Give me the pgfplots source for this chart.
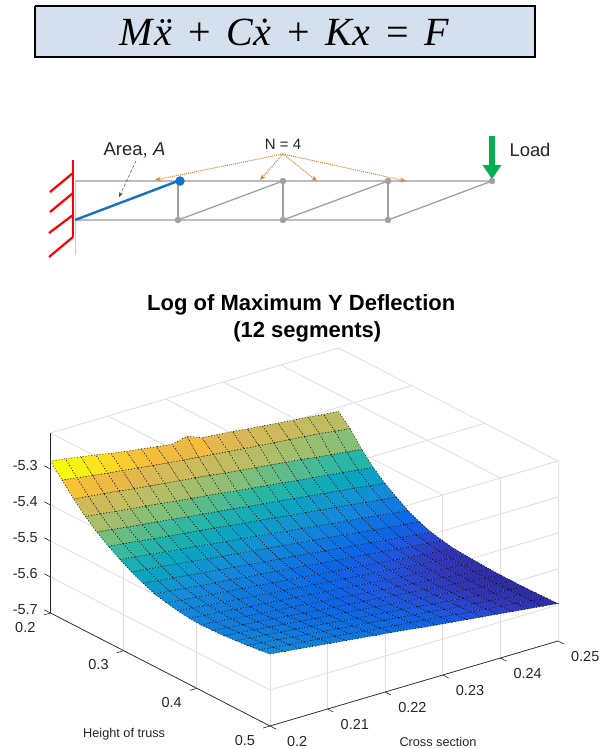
\documentclass[border=0pt]{standalone}
\usepackage{fontspec}
\setmainfont{Liberation Sans}
\newfontfamily\eqfont{Liberation Serif}
\usepackage{pgfplots}
\pgfplotsset{compat=1.18}
\usetikzlibrary{arrows.meta}
\definecolor{boxfill}{RGB}{213,224,238}
\definecolor{trussgray}{RGB}{160,160,160}
\definecolor{dotorange}{RGB}{208,130,40}
\definecolor{loadgreen}{RGB}{0,176,80}
\definecolor{tickcol}{RGB}{38,38,38}
\definecolor{gridcol}{RGB}{222,222,222}
\begin{document}
\begin{tikzpicture}
\path[use as bounding box] (0pt,0pt) rectangle (601pt,749pt);
% Pixel-scaled sheet: equation box and truss sketch
\begin{axis}[name=sheet,at={(0pt,0pt)},anchor=south west,scale only axis,width=601pt,height=749pt,
  xmin=0,xmax=601,ymin=0,ymax=749,y dir=reverse,hide axis,clip=false]
\addplot[draw=none,forget plot] coordinates {(0,0)(601,749)};
\addplot[draw=black,line width=1.5pt,fill=boxfill] coordinates {(35,6)(535,6)(535,57)(35,57)(35,6)};
\node[anchor=base] at (axis cs:284.5,46) {\fontsize{40}{44}\selectfont\eqfont{\itshape M\kern1.5pt\"x}\hspace{16pt}+\hspace{16pt}{\itshape C\.x}\hspace{16pt}+\hspace{16pt}{\itshape Kx}\hspace{16pt}=\hspace{16pt}{\itshape F}};
% chords and members
\addplot[trussgray!70,line width=1.6pt] coordinates {(75,181)(492,181)};
\addplot[trussgray!70,line width=1.6pt] coordinates {(75,220)(388,220)};
\addplot[trussgray,line width=2pt] coordinates {(178,181)(178,220)};
\addplot[trussgray,line width=2pt] coordinates {(283,181)(283,220)};
\addplot[trussgray,line width=2pt] coordinates {(388,181)(388,220)};
\addplot[trussgray,line width=1.3pt] coordinates {(178,220)(283,181)};
\addplot[trussgray,line width=1.3pt] coordinates {(283,220)(388,181)};
\addplot[trussgray,line width=1.3pt] coordinates {(388,220)(492,181)};
\addplot[gray!40,line width=0.7pt] coordinates {(75,181)(75,255)};
\addplot[only marks,mark=*,mark size=3pt,mark options={draw=trussgray,fill=trussgray}] coordinates {(283,181)(388,181)(492,181)(178,220)(283,220)(388,220)};
\addplot[color={rgb,255:red,20;green,115;blue,200},line width=2.4pt] coordinates {(75,220)(178,181)};
\addplot[only marks,mark=*,mark size=4.5pt,mark options={draw={rgb,255:red,20;green,115;blue,200},fill={rgb,255:red,20;green,115;blue,200}}] coordinates {(180,181)};
% wall
\addplot[red,line width=2.2pt] coordinates {(73,160)(73,237)};
\addplot[red,line width=2.2pt] coordinates {(73,173)(50,192)};
\addplot[red,line width=2.2pt] coordinates {(73,193)(50,212)};
\addplot[red,line width=2.2pt] coordinates {(73,215)(49,233)};
\addplot[red,line width=2.2pt] coordinates {(73,237)(49,257)};
% annotations
\addplot[black!75,line width=0.5pt,densely dashed,-{Stealth[length=5pt]}] coordinates {(136,161)(119,197)};
\addplot[dotorange,line width=1pt,densely dotted,-{Stealth[length=6pt,open]}] coordinates {(283,154)(155,180)};
\addplot[dotorange,line width=1pt,densely dotted,-{Stealth[length=6pt,open]}] coordinates {(283,154)(260,180)};
\addplot[dotorange,line width=1pt,densely dotted,-{Stealth[length=6pt,open]}] coordinates {(283,154)(317,181)};
\addplot[dotorange,line width=1pt,densely dotted,-{Stealth[length=6pt,open]}] coordinates {(283,154)(406,181)};
\addplot[loadgreen,line width=5.5pt,-{Triangle[length=14pt,width=18pt]}] coordinates {(492,136)(492,179)};
\node[text=black!85] at (axis cs:134.5,150) {\fontsize{18.5}{20}\selectfont Area, \textit{A}};
\node[text=black!85] at (axis cs:283,144) {\fontsize{15}{17}\selectfont N = 4};
\node[text=black!85] at (axis cs:530,150) {\fontsize{18.4}{20}\selectfont Load};
\end{axis}
% 3-D surface
\begin{axis}[at={(50.5pt,316pt)},anchor=origin,
  x={(5760pt,1700pt)},y={(731.67pt,-376.67pt)},z={(0pt,360pt)},
  xmin=0.2,xmax=0.25,ymin=0.2,ymax=0.5,zmin=-5.7,zmax=-5.2,
  clip=false,
  axis line style={draw=none},
  grid=major,grid style={gridcol,line width=0.8pt},
  xtick={0.2,0.21,0.22,0.23,0.24,0.25},xticklabels={0.2,0.21,0.22,0.23,0.24,0.25},
  ytick={0.2,0.3,0.4,0.5},yticklabels={0.2,0.3,0.4,0.5},
  ztick={-5.7,-5.6,-5.5,-5.4,-5.3},zticklabels={-5.7,-5.6,-5.5,-5.4,-5.3},
  xtick pos=left,ytick pos=left,ztick pos=left,
  tick style={draw=none},
  major tick length=7pt,
  tick align=outside,
  ticklabel style={font=\fontsize{14.5}{16}\selectfont,text=tickcol},
  xticklabel style={anchor=center,xshift=21pt,yshift=-12.5pt},
  yticklabel style={xshift=-10pt,yshift=-1pt},
  zticklabel style={xshift=-3pt,yshift=-1pt},
  colormap={par}{rgb255(0cm)=(45,42,155) rgb255(1cm)=(50,55,185) rgb255(2cm)=(30,85,222) rgb255(3cm)=(12,103,230) rgb255(4cm)=(15,115,224) rgb255(6cm)=(20,140,215) rgb255(8cm)=(10,165,195) rgb255(10cm)=(40,182,165) rgb255(12cm)=(124,191,123) rgb255(14cm)=(183,189,100) rgb255(16cm)=(220,185,85) rgb255(17cm)=(240,185,65) rgb255(18cm)=(250,195,50) rgb255(19cm)=(250,225,30) rgb255(20cm)=(249,251,14)},
  xlabel={Cross section},ylabel={Height of truss},
  x label style={at={(axis cs:0.2151,0.6107,-5.7)},anchor=center,font=\fontsize{12.7}{14}\selectfont,text=tickcol,rotate=0},
  y label style={at={(axis cs:0.1822,0.4408,-5.7)},anchor=center,font=\fontsize{12.7}{14}\selectfont,text=tickcol,rotate=0},
  title={Log of Maximum Y Deflection\hspace*{12pt}\\(12 segments)},
  title style={at={(axis cs:0.2904,-0.1594,-5.7)},xshift=-1pt,anchor=center,align=center,font=\fontsize{22}{27}\selectfont\bfseries},
]
\addplot3[surf,shader=flat corner,draw=black,dash pattern=on 0.9pt off 2pt,line width=0.55pt,mesh/rows=20,mesh/cols=20,mesh/ordering=x varies] table {
x y z
0.2 0.2 -5.278
0.2026 0.2 -5.284
0.2053 0.2 -5.291
0.2079 0.2 -5.298
0.2105 0.2 -5.306
0.2132 0.2 -5.313
0.2158 0.2 -5.319
0.2184 0.2 -5.325
0.2211 0.2 -5.331
0.2237 0.2 -5.321
0.2263 0.2 -5.337
0.2289 0.2 -5.341
0.2316 0.2 -5.345
0.2342 0.2 -5.350
0.2368 0.2 -5.354
0.2395 0.2 -5.359
0.2421 0.2 -5.363
0.2447 0.2 -5.367
0.2474 0.2 -5.372
0.25 0.2 -5.376
0.2 0.2158 -5.314
0.2026 0.2158 -5.320
0.2053 0.2158 -5.326
0.2079 0.2158 -5.332
0.2105 0.2158 -5.337
0.2132 0.2158 -5.343
0.2158 0.2158 -5.348
0.2184 0.2158 -5.353
0.2211 0.2158 -5.358
0.2237 0.2158 -5.362
0.2263 0.2158 -5.367
0.2289 0.2158 -5.371
0.2316 0.2158 -5.376
0.2342 0.2158 -5.380
0.2368 0.2158 -5.384
0.2395 0.2158 -5.388
0.2421 0.2158 -5.392
0.2447 0.2158 -5.396
0.2474 0.2158 -5.402
0.25 0.2158 -5.407
0.2 0.2316 -5.350
0.2026 0.2316 -5.355
0.2053 0.2316 -5.360
0.2079 0.2316 -5.365
0.2105 0.2316 -5.371
0.2132 0.2316 -5.376
0.2158 0.2316 -5.381
0.2184 0.2316 -5.386
0.2211 0.2316 -5.391
0.2237 0.2316 -5.396
0.2263 0.2316 -5.402
0.2289 0.2316 -5.407
0.2316 0.2316 -5.412
0.2342 0.2316 -5.417
0.2368 0.2316 -5.422
0.2395 0.2316 -5.427
0.2421 0.2316 -5.433
0.2447 0.2316 -5.438
0.2474 0.2316 -5.443
0.25 0.2316 -5.448
0.2 0.2474 -5.382
0.2026 0.2474 -5.387
0.2053 0.2474 -5.393
0.2079 0.2474 -5.398
0.2105 0.2474 -5.403
0.2132 0.2474 -5.408
0.2158 0.2474 -5.414
0.2184 0.2474 -5.419
0.2211 0.2474 -5.424
0.2237 0.2474 -5.429
0.2263 0.2474 -5.435
0.2289 0.2474 -5.440
0.2316 0.2474 -5.445
0.2342 0.2474 -5.450
0.2368 0.2474 -5.456
0.2395 0.2474 -5.461
0.2421 0.2474 -5.466
0.2447 0.2474 -5.471
0.2474 0.2474 -5.477
0.25 0.2474 -5.482
0.2 0.2632 -5.409
0.2026 0.2632 -5.414
0.2053 0.2632 -5.420
0.2079 0.2632 -5.425
0.2105 0.2632 -5.430
0.2132 0.2632 -5.435
0.2158 0.2632 -5.441
0.2184 0.2632 -5.446
0.2211 0.2632 -5.451
0.2237 0.2632 -5.456
0.2263 0.2632 -5.462
0.2289 0.2632 -5.467
0.2316 0.2632 -5.472
0.2342 0.2632 -5.477
0.2368 0.2632 -5.483
0.2395 0.2632 -5.488
0.2421 0.2632 -5.493
0.2447 0.2632 -5.498
0.2474 0.2632 -5.504
0.25 0.2632 -5.509
0.2 0.2789 -5.432
0.2026 0.2789 -5.437
0.2053 0.2789 -5.442
0.2079 0.2789 -5.448
0.2105 0.2789 -5.453
0.2132 0.2789 -5.458
0.2158 0.2789 -5.463
0.2184 0.2789 -5.468
0.2211 0.2789 -5.474
0.2237 0.2789 -5.479
0.2263 0.2789 -5.484
0.2289 0.2789 -5.489
0.2316 0.2789 -5.495
0.2342 0.2789 -5.500
0.2368 0.2789 -5.505
0.2395 0.2789 -5.510
0.2421 0.2789 -5.515
0.2447 0.2789 -5.521
0.2474 0.2789 -5.526
0.25 0.2789 -5.531
0.2 0.2947 -5.452
0.2026 0.2947 -5.457
0.2053 0.2947 -5.463
0.2079 0.2947 -5.468
0.2105 0.2947 -5.473
0.2132 0.2947 -5.478
0.2158 0.2947 -5.484
0.2184 0.2947 -5.489
0.2211 0.2947 -5.494
0.2237 0.2947 -5.499
0.2263 0.2947 -5.505
0.2289 0.2947 -5.510
0.2316 0.2947 -5.515
0.2342 0.2947 -5.520
0.2368 0.2947 -5.526
0.2395 0.2947 -5.531
0.2421 0.2947 -5.536
0.2447 0.2947 -5.541
0.2474 0.2947 -5.547
0.25 0.2947 -5.552
0.2 0.3105 -5.470
0.2026 0.3105 -5.475
0.2053 0.3105 -5.480
0.2079 0.3105 -5.485
0.2105 0.3105 -5.490
0.2132 0.3105 -5.496
0.2158 0.3105 -5.501
0.2184 0.3105 -5.506
0.2211 0.3105 -5.511
0.2237 0.3105 -5.516
0.2263 0.3105 -5.521
0.2289 0.3105 -5.526
0.2316 0.3105 -5.531
0.2342 0.3105 -5.536
0.2368 0.3105 -5.541
0.2395 0.3105 -5.547
0.2421 0.3105 -5.552
0.2447 0.3105 -5.557
0.2474 0.3105 -5.562
0.25 0.3105 -5.567
0.2 0.3263 -5.485
0.2026 0.3263 -5.490
0.2053 0.3263 -5.495
0.2079 0.3263 -5.500
0.2105 0.3263 -5.505
0.2132 0.3263 -5.510
0.2158 0.3263 -5.515
0.2184 0.3263 -5.520
0.2211 0.3263 -5.525
0.2237 0.3263 -5.530
0.2263 0.3263 -5.534
0.2289 0.3263 -5.539
0.2316 0.3263 -5.544
0.2342 0.3263 -5.549
0.2368 0.3263 -5.554
0.2395 0.3263 -5.559
0.2421 0.3263 -5.564
0.2447 0.3263 -5.569
0.2474 0.3263 -5.574
0.25 0.3263 -5.579
0.2 0.3421 -5.498
0.2026 0.3421 -5.503
0.2053 0.3421 -5.507
0.2079 0.3421 -5.512
0.2105 0.3421 -5.517
0.2132 0.3421 -5.521
0.2158 0.3421 -5.526
0.2184 0.3421 -5.530
0.2211 0.3421 -5.535
0.2237 0.3421 -5.540
0.2263 0.3421 -5.544
0.2289 0.3421 -5.549
0.2316 0.3421 -5.554
0.2342 0.3421 -5.558
0.2368 0.3421 -5.563
0.2395 0.3421 -5.567
0.2421 0.3421 -5.572
0.2447 0.3421 -5.577
0.2474 0.3421 -5.581
0.25 0.3421 -5.586
0.2 0.3579 -5.506
0.2026 0.3579 -5.511
0.2053 0.3579 -5.515
0.2079 0.3579 -5.520
0.2105 0.3579 -5.524
0.2132 0.3579 -5.529
0.2158 0.3579 -5.533
0.2184 0.3579 -5.538
0.2211 0.3579 -5.542
0.2237 0.3579 -5.547
0.2263 0.3579 -5.551
0.2289 0.3579 -5.556
0.2316 0.3579 -5.560
0.2342 0.3579 -5.565
0.2368 0.3579 -5.569
0.2395 0.3579 -5.574
0.2421 0.3579 -5.578
0.2447 0.3579 -5.583
0.2474 0.3579 -5.587
0.25 0.3579 -5.592
0.2 0.3737 -5.512
0.2026 0.3737 -5.516
0.2053 0.3737 -5.521
0.2079 0.3737 -5.525
0.2105 0.3737 -5.529
0.2132 0.3737 -5.534
0.2158 0.3737 -5.538
0.2184 0.3737 -5.542
0.2211 0.3737 -5.547
0.2237 0.3737 -5.551
0.2263 0.3737 -5.555
0.2289 0.3737 -5.559
0.2316 0.3737 -5.564
0.2342 0.3737 -5.568
0.2368 0.3737 -5.572
0.2395 0.3737 -5.577
0.2421 0.3737 -5.581
0.2447 0.3737 -5.585
0.2474 0.3737 -5.590
0.25 0.3737 -5.594
0.2 0.3895 -5.516
0.2026 0.3895 -5.520
0.2053 0.3895 -5.524
0.2079 0.3895 -5.529
0.2105 0.3895 -5.533
0.2132 0.3895 -5.537
0.2158 0.3895 -5.541
0.2184 0.3895 -5.545
0.2211 0.3895 -5.550
0.2237 0.3895 -5.554
0.2263 0.3895 -5.558
0.2289 0.3895 -5.562
0.2316 0.3895 -5.567
0.2342 0.3895 -5.571
0.2368 0.3895 -5.575
0.2395 0.3895 -5.579
0.2421 0.3895 -5.583
0.2447 0.3895 -5.588
0.2474 0.3895 -5.592
0.25 0.3895 -5.596
0.2 0.4053 -5.518
0.2026 0.4053 -5.522
0.2053 0.4053 -5.526
0.2079 0.4053 -5.531
0.2105 0.4053 -5.535
0.2132 0.4053 -5.539
0.2158 0.4053 -5.543
0.2184 0.4053 -5.547
0.2211 0.4053 -5.552
0.2237 0.4053 -5.556
0.2263 0.4053 -5.560
0.2289 0.4053 -5.564
0.2316 0.4053 -5.569
0.2342 0.4053 -5.573
0.2368 0.4053 -5.577
0.2395 0.4053 -5.581
0.2421 0.4053 -5.585
0.2447 0.4053 -5.590
0.2474 0.4053 -5.594
0.25 0.4053 -5.598
0.2 0.4211 -5.517
0.2026 0.4211 -5.521
0.2053 0.4211 -5.526
0.2079 0.4211 -5.530
0.2105 0.4211 -5.534
0.2132 0.4211 -5.539
0.2158 0.4211 -5.543
0.2184 0.4211 -5.547
0.2211 0.4211 -5.552
0.2237 0.4211 -5.556
0.2263 0.4211 -5.560
0.2289 0.4211 -5.564
0.2316 0.4211 -5.569
0.2342 0.4211 -5.573
0.2368 0.4211 -5.577
0.2395 0.4211 -5.582
0.2421 0.4211 -5.586
0.2447 0.4211 -5.590
0.2474 0.4211 -5.595
0.25 0.4211 -5.599
0.2 0.4368 -5.515
0.2026 0.4368 -5.519
0.2053 0.4368 -5.524
0.2079 0.4368 -5.528
0.2105 0.4368 -5.533
0.2132 0.4368 -5.537
0.2158 0.4368 -5.542
0.2184 0.4368 -5.546
0.2211 0.4368 -5.550
0.2237 0.4368 -5.555
0.2263 0.4368 -5.559
0.2289 0.4368 -5.564
0.2316 0.4368 -5.568
0.2342 0.4368 -5.572
0.2368 0.4368 -5.577
0.2395 0.4368 -5.581
0.2421 0.4368 -5.586
0.2447 0.4368 -5.590
0.2474 0.4368 -5.595
0.25 0.4368 -5.599
0.2 0.4526 -5.512
0.2026 0.4526 -5.517
0.2053 0.4526 -5.521
0.2079 0.4526 -5.526
0.2105 0.4526 -5.530
0.2132 0.4526 -5.535
0.2158 0.4526 -5.539
0.2184 0.4526 -5.544
0.2211 0.4526 -5.549
0.2237 0.4526 -5.553
0.2263 0.4526 -5.558
0.2289 0.4526 -5.562
0.2316 0.4526 -5.567
0.2342 0.4526 -5.572
0.2368 0.4526 -5.576
0.2395 0.4526 -5.581
0.2421 0.4526 -5.585
0.2447 0.4526 -5.590
0.2474 0.4526 -5.594
0.25 0.4526 -5.599
0.2 0.4684 -5.509
0.2026 0.4684 -5.514
0.2053 0.4684 -5.518
0.2079 0.4684 -5.523
0.2105 0.4684 -5.528
0.2132 0.4684 -5.532
0.2158 0.4684 -5.537
0.2184 0.4684 -5.542
0.2211 0.4684 -5.546
0.2237 0.4684 -5.551
0.2263 0.4684 -5.556
0.2289 0.4684 -5.560
0.2316 0.4684 -5.565
0.2342 0.4684 -5.570
0.2368 0.4684 -5.575
0.2395 0.4684 -5.579
0.2421 0.4684 -5.584
0.2447 0.4684 -5.589
0.2474 0.4684 -5.593
0.25 0.4684 -5.598
0.2 0.4842 -5.505
0.2026 0.4842 -5.510
0.2053 0.4842 -5.515
0.2079 0.4842 -5.520
0.2105 0.4842 -5.524
0.2132 0.4842 -5.529
0.2158 0.4842 -5.534
0.2184 0.4842 -5.539
0.2211 0.4842 -5.544
0.2237 0.4842 -5.549
0.2263 0.4842 -5.553
0.2289 0.4842 -5.558
0.2316 0.4842 -5.563
0.2342 0.4842 -5.568
0.2368 0.4842 -5.573
0.2395 0.4842 -5.578
0.2421 0.4842 -5.582
0.2447 0.4842 -5.587
0.2474 0.4842 -5.592
0.25 0.4842 -5.597
0.2 0.5 -5.500
0.2026 0.5 -5.505
0.2053 0.5 -5.510
0.2079 0.5 -5.515
0.2105 0.5 -5.520
0.2132 0.5 -5.525
0.2158 0.5 -5.530
0.2184 0.5 -5.535
0.2211 0.5 -5.540
0.2237 0.5 -5.545
0.2263 0.5 -5.551
0.2289 0.5 -5.556
0.2316 0.5 -5.561
0.2342 0.5 -5.566
0.2368 0.5 -5.571
0.2395 0.5 -5.576
0.2421 0.5 -5.581
0.2447 0.5 -5.586
0.2474 0.5 -5.591
0.25 0.5 -5.596
};
% axis lines in front
\addplot3[black!85,line width=0.9pt] coordinates {(0.2,0.2,-5.7)(0.2,0.2,-5.2)};
\addplot3[black!85,line width=0.7pt] coordinates {(0.2,0.2,-5.7)(0.2,0.5,-5.7)};
\addplot3[black!85,line width=0.7pt] coordinates {(0.2,0.5,-5.7)(0.25,0.5,-5.7)};
% tick marks
\addplot3[tickcol,line width=0.6pt,unbounded coords=jump] coordinates {
(0.21,0.5,-5.7)(0.21,0.508,-5.7)(nan,nan,nan)(0.22,0.5,-5.7)(0.22,0.508,-5.7)(nan,nan,nan)
(0.23,0.5,-5.7)(0.23,0.508,-5.7)(nan,nan,nan)(0.24,0.5,-5.7)(0.24,0.508,-5.7)(nan,nan,nan)
(0.25,0.5,-5.7)(0.25,0.508,-5.7)(nan,nan,nan)(0.2,0.5,-5.7)(0.2,0.508,-5.7)(nan,nan,nan)
(0.2,0.2,-5.7)(0.1988,0.2,-5.7)(nan,nan,nan)(0.2,0.3,-5.7)(0.1988,0.3,-5.7)(nan,nan,nan)
(0.2,0.4,-5.7)(0.1988,0.4,-5.7)(nan,nan,nan)(0.2,0.5,-5.7)(0.1988,0.5,-5.7)(nan,nan,nan)
(0.2,0.2,-5.7)(0.2,0.1915,-5.7)(nan,nan,nan)(0.2,0.2,-5.6)(0.2,0.1915,-5.6)(nan,nan,nan)
(0.2,0.2,-5.5)(0.2,0.1915,-5.5)(nan,nan,nan)(0.2,0.2,-5.4)(0.2,0.1915,-5.4)(nan,nan,nan)
(0.2,0.2,-5.3)(0.2,0.1915,-5.3)
};
\end{axis}
\end{tikzpicture}
\end{document}
